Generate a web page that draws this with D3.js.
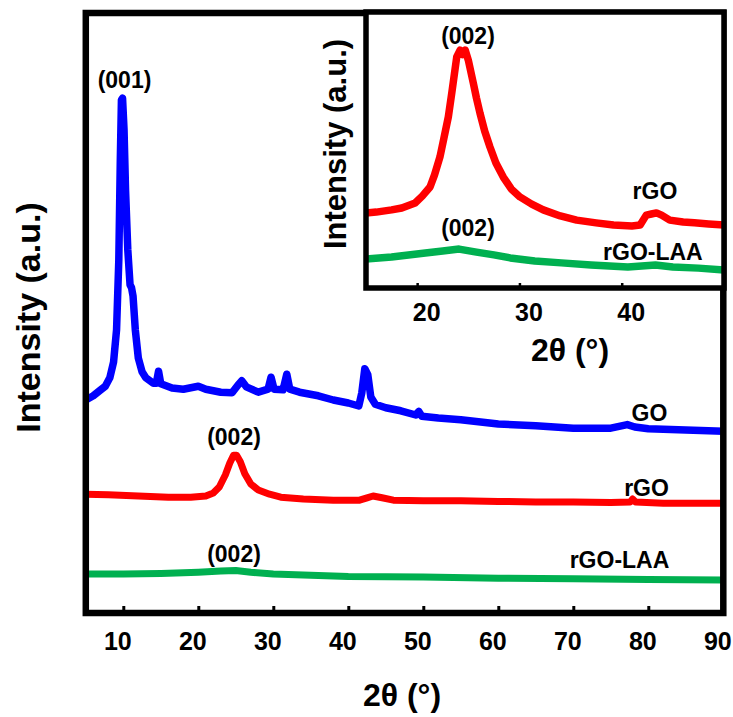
<!DOCTYPE html>
<html>
<head>
<meta charset="utf-8">
<script src="https://cdn.jsdelivr.net/npm/d3@7"></script>
<style>
  html, body { margin: 0; padding: 0; background: #fff; }
  svg { display: block; }
  text { font-family: "Liberation Sans", Arial, Helvetica, sans-serif; font-weight: bold; fill: #000; }
</style>
</head>
<body>
<svg id="chart" width="733" height="717"></svg>
<script>
// ---------- Main panel data (2θ in degrees, intensity in a.u.) ----------
const goTheta = [5.0, 6.0, 7.0, 7.6, 8.2, 8.7, 9.1, 9.4, 9.6, 9.75, 9.9, 10.1, 10.3, 10.6, 10.9, 11.1, 11.3, 11.6, 12.0, 12.5, 13.0, 14.0, 14.4, 14.7, 15.0, 16.5, 18.0, 20.0, 21.0, 23.0, 24.5, 25.3, 25.8, 26.4, 28.0, 29.3, 29.7, 30.1, 31.3, 31.8, 32.2, 33.5, 36.0, 38.0, 40.0, 41.4, 41.8, 42.2, 42.6, 43.0, 43.6, 45.0, 47.0, 49.0, 49.4, 49.8, 52.0, 55.0, 60.0, 65.0, 70.0, 75.0, 77.2, 78.2, 80.0, 85.0, 90.0];
const goIntensity = [35.5, 36.2, 37.2, 37.8, 39.2, 41.8, 47.2, 58.8, 75.5, 85.5, 85.8, 80.5, 70.5, 60.5, 54.7, 54.2, 52.8, 47.2, 42.5, 40.2, 39.2, 38.3, 38.3, 40.3, 38.2, 37.5, 37.3, 37.8, 37.3, 36.8, 36.7, 38.0, 38.7, 37.7, 36.8, 37.3, 39.3, 37.3, 37.2, 39.8, 37.3, 36.8, 36.2, 35.5, 35.0, 34.5, 36.7, 40.7, 39.7, 36.0, 34.8, 34.2, 33.7, 33.0, 33.6, 32.8, 32.5, 32.2, 31.5, 31.2, 30.8, 30.8, 31.4, 31.0, 30.7, 30.5, 30.3];

const rgoTheta = [5, 8, 12, 16, 19, 21, 22, 22.8, 23.6, 24.2, 24.7, 25.1, 25.6, 26.2, 27, 28, 29.5, 31, 34, 38, 41.5, 42.5, 43.3, 44.5, 46, 50, 55, 60, 65, 70, 75, 77.6, 77.9, 78.3, 82, 86, 90];
const rgoIntensity = [19.8, 19.7, 19.5, 19.3, 19.3, 19.5, 20.0, 21.0, 23.0, 25.0, 26.3, 26.3, 25.2, 23.2, 21.5, 20.5, 19.8, 19.3, 19.0, 18.8, 18.8, 19.2, 19.5, 19.2, 18.8, 18.7, 18.7, 18.6, 18.5, 18.5, 18.4, 18.5, 19.0, 18.5, 18.3, 18.3, 18.3];

const laaTheta = [5, 10, 15, 20, 23, 25, 27, 30, 35, 40, 50, 60, 70, 80, 90];
const laaIntensity = [6.5, 6.5, 6.6, 6.8, 7.0, 7.1, 6.8, 6.5, 6.3, 6.1, 6.0, 5.8, 5.7, 5.6, 5.5];

// ---------- Inset data ----------
const insetRgoTheta = [15, 16, 17.5, 18.5, 19.8, 20.5, 21.26, 21.7, 22.23, 22.6, 23.05, 23.4, 23.87, 24.2, 24.45, 24.7, 25.0, 25.49, 25.8, 26.14, 26.6, 27.12, 27.7, 28.42, 29.2, 30.05, 31.2, 32.33, 34.0, 35.6, 37.5, 39.2, 41.0, 41.8, 42.4, 42.9, 43.4, 43.9, 44.7, 46.0, 47.1, 48.5, 50.0];
const insetRgoIntensity = [27.2, 27.5, 28.3, 29.0, 30.8, 33.3, 36.6, 41.0, 47.5, 54.0, 62.0, 71.0, 83.7, 86.2, 84.6, 86.2, 82.6, 74.3, 68.8, 63.4, 56.9, 51.1, 45.3, 40.2, 35.9, 33.0, 30.4, 28.3, 26.1, 24.6, 23.6, 22.8, 22.5, 22.8, 26.4, 26.8, 27.2, 26.4, 24.6, 23.9, 23.6, 23.2, 22.8];

const insetLaaTheta = [15, 17.5, 20.8, 22.5, 24.1, 25.8, 27.5, 29.1, 31.5, 34.1, 37, 40.6, 43.3, 45, 47.5, 50];
const insetLaaIntensity = [10.5, 11.2, 12.7, 13.4, 14.1, 13.0, 12.0, 10.9, 9.8, 9.1, 8.3, 7.6, 8.3, 7.6, 7.2, 6.5];

// ---------- Ticks & labels ----------
const mainTicks = [10, 20, 30, 40, 50, 60, 70, 80, 90];
const insetTicks = [20, 30, 40];
const mainLabels = [
  { text: "(001)", theta: 10.16, value: 87.5 },
  { text: "(002)", theta: 24.76, value: 28.0 },
  { text: "(002)", theta: 24.76, value: 8.5 },
  { text: "GO", theta: 80.16, value: 32.0 },
  { text: "rGO", theta: 79.76, value: 19.5 },
  { text: "rGO-LAA", theta: 76.16, value: 7.5 }
];
const insetLabels = [
  { text: "(002)", theta: 24.97, value: 88.4 },
  { text: "rGO", theta: 43.25, value: 32.3 },
  { text: "(002)", theta: 24.97, value: 18.8 },
  { text: "rGO-LAA", theta: 43.05, value: 10.1 }
];

const BLUE = "#0000ff", RED = "#ff0000", GREEN = "#00b050";

const svg = d3.select("#chart");

// ---------- Main panel ----------
const x = d3.scaleLinear().domain([5, 90]).range([85.8, 723.3]);
const y = d3.scaleLinear().domain([0, 100]).range([613, 13]);

svg.append("clipPath").attr("id", "mainClip").append("rect")
  .attr("x", x(5)).attr("y", y(100)).attr("width", x(90) - x(5)).attr("height", y(0) - y(100));

const lineMain = d3.line().x(d => x(d[0])).y(d => y(d[1])).curve(d3.curveLinear);
const zip = (a, b) => a.map((v, i) => [v, b[i]]);

const mainG = svg.append("g").attr("clip-path", "url(#mainClip)");
[[goTheta, goIntensity, BLUE, 7.5], [rgoTheta, rgoIntensity, RED, 7], [laaTheta, laaIntensity, GREEN, 7]]
  .forEach(([t, v, c, w]) => {
    mainG.append("path").datum(zip(t, v))
      .attr("d", lineMain).attr("fill", "none").attr("stroke", c)
      .attr("stroke-width", w).attr("stroke-linejoin", "round").attr("stroke-linecap", "round");
  });

// x axis (ticks inside, pointing up)
const xAxis = d3.axisBottom(x).tickValues(mainTicks).tickSizeInner(-7).tickSizeOuter(0).tickPadding(0).tickFormat(d3.format("d"));
const gx = svg.append("g").attr("transform", `translate(0,${y(0)})`).call(xAxis);
gx.select(".domain").remove();
gx.selectAll(".tick line").attr("stroke", "#000").attr("stroke-width", 3);
gx.selectAll(".tick").filter(d => d === 90).select("line").remove();
gx.selectAll(".tick text").attr("y", 37).attr("dy", 0).attr("dx", -6)
  .style("font-size", "25px").attr("fill", "#000");

// frame
svg.append("rect").attr("x", x(5)).attr("y", y(100)).attr("width", x(90) - x(5)).attr("height", y(0) - y(100))
  .attr("fill", "none").attr("stroke", "#000").attr("stroke-width", 6.5);

// annotations
svg.append("g").selectAll("text").data(mainLabels).join("text")
  .attr("x", d => x(d.theta)).attr("y", d => y(d.value))
  .attr("text-anchor", "middle").style("font-size", "23px").text(d => d.text);

// axis titles
svg.append("text").attr("x", 402).attr("y", 706).attr("text-anchor", "middle")
  .style("font-size", "32px").text("2θ (°)");
svg.append("text").attr("transform", "translate(40,317.5) rotate(-90)").attr("text-anchor", "middle")
  .style("font-size", "34px").text("Intensity (a.u.)");

// ---------- Inset ----------
const xi = d3.scaleLinear().domain([15, 50]).range([366, 724]);
const yi = d3.scaleLinear().domain([0, 100]).range([288, 12]);

svg.append("rect").attr("x", xi(15)).attr("y", yi(100)).attr("width", xi(50) - xi(15)).attr("height", yi(0) - yi(100))
  .attr("fill", "#fff");

svg.append("clipPath").attr("id", "insetClip").append("rect")
  .attr("x", xi(15)).attr("y", yi(100)).attr("width", xi(50) - xi(15)).attr("height", yi(0) - yi(100));

const lineInset = d3.line().x(d => xi(d[0])).y(d => yi(d[1]));
const insetG = svg.append("g").attr("clip-path", "url(#insetClip)");
[[insetRgoTheta, insetRgoIntensity, RED], [insetLaaTheta, insetLaaIntensity, GREEN]].forEach(([t, v, c]) => {
  insetG.append("path").datum(zip(t, v)).attr("d", lineInset)
    .attr("fill", "none").attr("stroke", c).attr("stroke-width", 7.5)
    .attr("stroke-linejoin", "round").attr("stroke-linecap", "round");
});

const xiAxis = d3.axisBottom(xi).tickValues(insetTicks).tickSizeInner(-5).tickSizeOuter(0).tickPadding(0).tickFormat(d3.format("d"));
const gxi = svg.append("g").attr("transform", `translate(0,${yi(0)})`).call(xiAxis);
gxi.select(".domain").remove();
gxi.selectAll(".tick line").attr("stroke", "#000").attr("stroke-width", 2.5);
gxi.selectAll(".tick text").attr("y", 33).attr("dy", 0).attr("dx", 9)
  .style("font-size", "25px").attr("fill", "#000");

svg.append("rect").attr("x", xi(15)).attr("y", yi(100)).attr("width", xi(50) - xi(15)).attr("height", yi(0) - yi(100))
  .attr("fill", "none").attr("stroke", "#000").attr("stroke-width", 5.5);

svg.append("g").selectAll("text").data(insetLabels).join("text")
  .attr("x", d => xi(d.theta)).attr("y", d => yi(d.value))
  .attr("text-anchor", "middle").style("font-size", "23px").text(d => d.text);

svg.append("text").attr("x", 570).attr("y", 361).attr("text-anchor", "middle")
  .style("font-size", "32px").text("2θ (°)");
svg.append("text").attr("transform", "translate(346,144) rotate(-90)").attr("text-anchor", "middle")
  .style("font-size", "31px").text("Intensity (a.u.)");
</script>
</body>
</html>
